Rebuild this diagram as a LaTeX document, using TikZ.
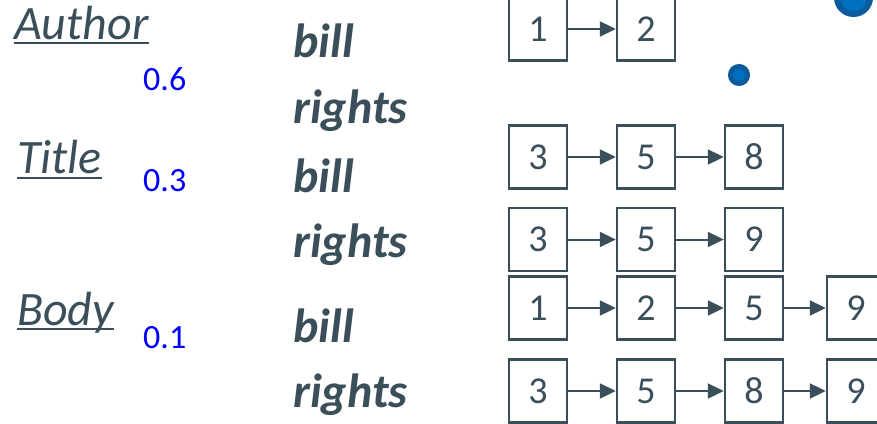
\documentclass[tikz,border=0pt]{standalone}
\usepackage{fontspec}
\setmainfont{Carlito}
\usetikzlibrary{arrows.meta}
\definecolor{slate}{HTML}{3B4F5B}
\definecolor{dotfill}{HTML}{0070C0}
\definecolor{dotring}{HTML}{0B5A9B}
\begin{document}
\begin{tikzpicture}[x=1pt,y=-1pt,
  numbox/.style={draw=slate, line width=2.4pt, minimum width=58pt, minimum height=63pt, inner sep=0pt, text=slate, font=\fontsize{38}{38}\selectfont},
  link/.style={draw=slate, line width=2pt, -{Triangle[length=16pt,width=15pt]}},
  field/.style={anchor=base west, inner sep=0pt, text=slate, font=\fontsize{48}{48}\selectfont\itshape},
  term/.style={anchor=base west, inner sep=0pt, text=slate, font=\fontsize{48}{48}\selectfont\bfseries\itshape},
  weight/.style={anchor=base west, inner sep=0pt, text=blue, font=\fontsize{34}{34}\selectfont},
  uline/.style={draw=slate, line width=2pt},
  dot/.style={circle, fill=dotfill, draw=dotring, inner sep=0pt}]
\useasboundingbox (0,0) rectangle (877,423);

% field names
\node[field] (author) at (14,39) {Author};
\node[field] (title) at (17,173) {Title};
\node[field] (body) at (17,325) {Body};
\draw[uline] ([yshift=-4pt]author.base west) -- ([yshift=-4pt]author.base east);
\draw[uline] ([yshift=-5pt]title.base west) -- ([yshift=-5pt]title.base east);
\draw[uline] ([yshift=-4pt]body.base west) -- ([yshift=-4pt]body.base east);

% weights
\node[weight] (w1) at (143,90) {0.6};
\node[weight] (w2) at (143,191) {0.3};
\node[weight] (w3) at (143,348) {0.1};

% terms
\node[term] (t1) at (293,57) {bill};
\node[term] (t2) at (293,123) {rights};
\node[term] (t3) at (293,192) {bill};
\node[term] (t4) at (293,257) {rights};
\node[term] (t5) at (293,342) {bill};
\node[term] (t6) at (293,407) {rights};

% dots
\node[dot, minimum size=17pt, line width=5pt] (d1) at (739,75) {};
\node[dot, minimum size=33pt, line width=6pt] (d2) at (853.5,-2.5) {};

% row 1
\node[numbox] (a1) at (538,29) {1};
\node[numbox] (a2) at (646,29) {2};
\draw[link] (a1) -- (a2);

% row 2
\node[numbox] (b1) at (538,157) {3};
\node[numbox] (b2) at (646,157) {5};
\node[numbox] (b3) at (754,157) {8};
\draw[link] (b1) -- (b2);
\draw[link] (b2) -- (b3);

% row 3
\node[numbox] (c1) at (538,239.5) {3};
\node[numbox] (c2) at (646,239.5) {5};
\node[numbox] (c3) at (754,239.5) {9};
\draw[link] (c1) -- (c2);
\draw[link] (c2) -- (c3);

% row 4
\node[numbox] (e1) at (538,308) {1};
\node[numbox] (e2) at (646,308) {2};
\node[numbox] (e3) at (754,308) {5};
\node[numbox] (e4) at (856,308) {9};
\draw[link] (e1) -- (e2);
\draw[link] (e2) -- (e3);
\draw[link] (e3) -- (e4);

% row 5
\node[numbox] (f1) at (538,391) {3};
\node[numbox] (f2) at (646,391) {5};
\node[numbox] (f3) at (754,391) {8};
\node[numbox] (f4) at (856,391) {9};
\draw[link] (f1) -- (f2);
\draw[link] (f2) -- (f3);
\draw[link] (f3) -- (f4);
\end{tikzpicture}
\end{document}
